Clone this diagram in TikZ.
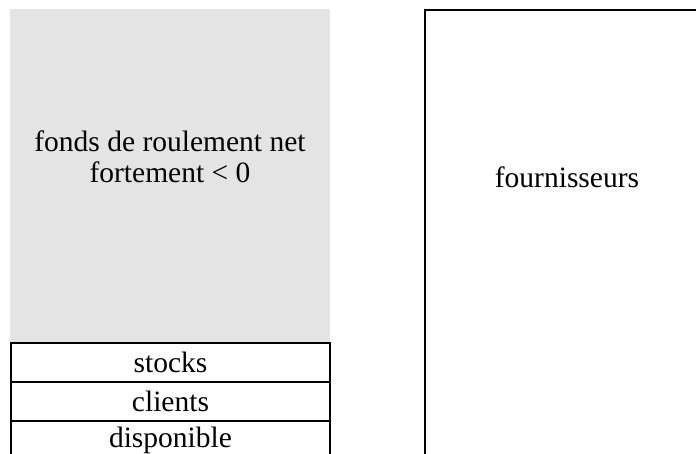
\documentclass[tikz,border=0pt]{standalone}
\usepackage{fontspec}
\setmainfont{Liberation Serif}
\usetikzlibrary{positioning}
\definecolor{fondgris}{RGB}{228,228,228}
\begin{document}
\begin{tikzpicture}[x=1pt,y=1pt,
	poste/.style={draw,line width=2.4pt,minimum width=319pt,minimum height=39pt,inner sep=0pt,outer sep=0pt,font=\fontsize{29.5}{31}\selectfont},
	texte/.style={font=\fontsize{29.5}{31}\selectfont,align=center,inner sep=0pt}]
	\useasboundingbox (0,0) rectangle (696,-454);
	\fill[fondgris] (10,-9) rectangle (330,-343);
	\node[texte,anchor=base](frng) at (170,-183) {fonds de roulement net\\fortement < 0};
	\node[poste,anchor=north west](stocks) at (11,-343) {stocks};
	\node[poste,below=0pt of stocks](clients) {clients};
	\node[poste,below=0pt of clients](dispo) {disponible};
	\draw[line width=2.4pt](425,-470)--(425,-10)--(710,-10)--(710,-470);
	\node[texte,anchor=base](fourn) at (567,-188) {fournisseurs};
\end{tikzpicture}
\end{document}
